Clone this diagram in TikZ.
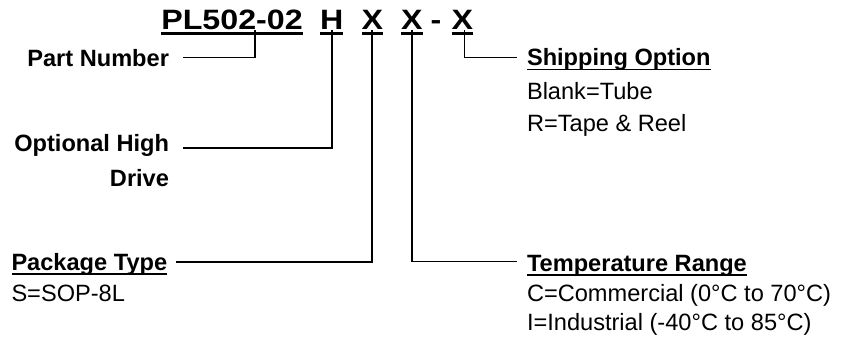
\documentclass[tikz,border=0pt]{standalone}
\usepackage{fontspec}
\setmainfont{Liberation Sans}
\newfontfamily\titlefont[FakeStretch=1.15]{Liberation Sans}

\begin{document}
\begin{tikzpicture}[x=1pt, y=-1pt,
  every node/.style={inner sep=0pt, outer sep=0pt, font=\fontsize{23.6}{28}\selectfont},
  code/.style={anchor=base, font=\titlefont\bfseries\fontsize{28}{32}\selectfont},
  head/.style={font=\bfseries\fontsize{23.6}{28}\selectfont},
  lead/.style={line width=1.8pt},
  thinlead/.style={line width=1.1pt},
  uline/.style={line width=1.5pt}]

\useasboundingbox (0,0) rectangle (850,339);

% Ordering code
  \node[code] (pn) at (232,30) {PL502-02};
  \node[code] (hd) at (331.7,30) {H};
  \node[code] (pk) at (372.3,30) {X};
  \node[code] (tr) at (411.8,30) {X};
  \node[code] (ds) at (436,30) {-};
  \node[code] (sh) at (462.3,30) {X};
  \foreach \n in {pn,hd,pk,tr,sh}
    \draw[line width=3pt] ([yshift=-4pt]\n.base west) -- ([yshift=-4pt]\n.base east);

% Left labels
  \node[head, anchor=base east] (num) at (169,66.7) {Part Number};
  \node[head, anchor=base east] (opt) at (169,151.7) {Optional High};
  \node[head, anchor=base east] (drv) at (169,186.7) {Drive};
  \node[head, anchor=base west] (pkg) at (11.5,270.7) {Package Type};
  \node[anchor=base west] (pkgs) at (11.5,301.7) {S=SOP-8L};

% Right labels
  \node[head, anchor=base west] (ship) at (527,66) {Shipping Option};
  \node[anchor=base west] (ship1) at (527,100) {Blank=Tube};
  \node[anchor=base west] (ship2) at (527,131.5) {R=Tape \& Reel};
  \node[head, anchor=base west] (temp) at (527,271.5) {Temperature Range};
  \node[anchor=base west] (temp1) at (527,301.5) {C=Commercial (0°C to 70°C)};
  \node[anchor=base west] (temp2) at (527,330.5) {I=Industrial (-40°C to 85°C)};
  \foreach \n in {pkg,ship,temp}
    \draw[uline] ([yshift=-3.5pt]\n.base west) -- ([yshift=-3.5pt]\n.base east);

% Leads
  \draw[thinlead] ([xshift=23pt]pn.south) |- ([xshift=14pt,yshift=9pt]num.base east);
  \draw[lead] (hd.south) |- ([xshift=14pt,yshift=4pt]opt.base east);
  \draw[lead] (pk.south) |- ([xshift=9pt,yshift=9pt]pkg.base east);
  \draw[lead] (tr.south) |- ([xshift=-10pt,yshift=10pt]temp.base west);
  \draw[thinlead] ([xshift=2.5pt]sh.south) |- ([xshift=-10pt,yshift=8.5pt]ship.base west);

\end{tikzpicture}
\end{document}
